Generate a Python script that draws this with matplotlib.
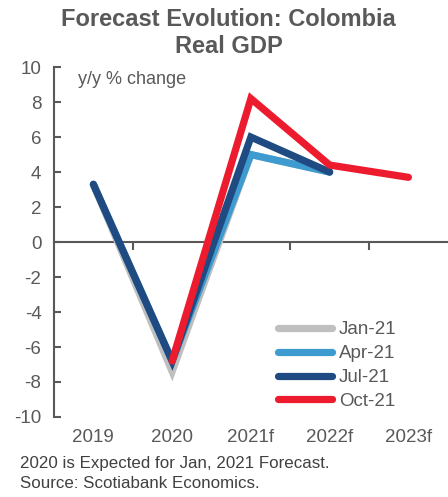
import numpy as np
import matplotlib
matplotlib.use("Agg")
import matplotlib.pyplot as plt
import matplotlib.transforms as mtransforms

plt.rcParams['font.family'] = ['Liberation Sans', 'DejaVu Sans']
plt.rcParams['axes.unicode_minus'] = False

# data
years = ['2019', '2020', '2021f', '2022f', '2023f']
jan21 = [3.3, -7.4, 5.0, 4.0, np.nan]
apr21 = [3.3, -6.8, 5.0, 4.0, np.nan]
jul21 = [3.3, -6.8, 6.0, 4.0, np.nan]
oct21 = [np.nan, -6.8, 8.2, 4.4, 3.7]

series = [('Jan-21', jan21, '#bfbfbf'),
          ('Apr-21', apr21, '#3d9bd0'),
          ('Jul-21', jul21, '#1f4b82'),
          ('Oct-21', oct21, '#ec1b2e')]

grey = '#595959'

fig = plt.figure(figsize=(4.48, 4.97), dpi=100)
ax = fig.add_axes([0.1205, 0.161, 0.879, 0.704])

x = np.arange(len(years))
for name, vals, col in series:
    ax.plot(x, vals, color=col, lw=5.2, label=name, solid_capstyle='round',
            solid_joinstyle='miter')

ax.set_xlim(-0.5, 4.5)
ax.set_ylim(-10, 10)
ax.set_yticks(np.arange(-10, 11, 2))
ax.tick_params(axis='y', direction='in', length=5, width=1.5, color=grey,
               labelcolor=grey, labelsize=13.5, pad=9)

# zero line acts as the category axis
for s in ['top', 'right']:
    ax.spines[s].set_visible(False)
ax.spines['left'].set_color(grey)
ax.spines['left'].set_linewidth(1.5)
ax.spines['bottom'].set_position(('data', 0))
ax.spines['bottom'].set_color(grey)
ax.spines['bottom'].set_linewidth(1.5)
ax.spines['bottom'].set_zorder(0)
ax.set_xticks(x)
ax.set_xticklabels([])
ax.tick_params(axis='x', which='major', length=0)
ax.set_xticks(x[:-1] + 0.5, minor=True)
ax.tick_params(axis='x', which='minor', direction='out', length=6, width=1.5,
               color=grey)

trans = mtransforms.blended_transform_factory(ax.transData, ax.transAxes)
for xi, lab in zip(x, years):
    ax.text(xi, -0.035, lab, transform=trans, ha='center', va='top',
            fontsize=13.5, color=grey)

ax.text(0.06, 0.99, 'y/y % change', transform=ax.transAxes, ha='left',
        va='top', fontsize=13, color=grey)

leg = ax.legend(loc='lower right', bbox_to_anchor=(0.87, 0.02), frameon=False,
                fontsize=13.5, handlelength=2.9, handletextpad=0.35,
                labelspacing=0.36, borderaxespad=0, borderpad=0)
for t in leg.get_texts():
    t.set_color(grey)

fig.text(0.51, 0.984, 'Forecast Evolution: Colombia\nReal GDP', ha='center',
         va='top', fontsize=17, fontweight='bold', color=grey, linespacing=1.2)

fig.text(0.045, 0.068, '2020 is Expected for Jan, 2021 Forecast.',
         ha='left', va='center', fontsize=12.2, color='#404040')
fig.text(0.045, 0.028, 'Source: Scotiabank Economics.',
         ha='left', va='center', fontsize=12.2, color='#404040')

fig.savefig('out.png', dpi=100)
